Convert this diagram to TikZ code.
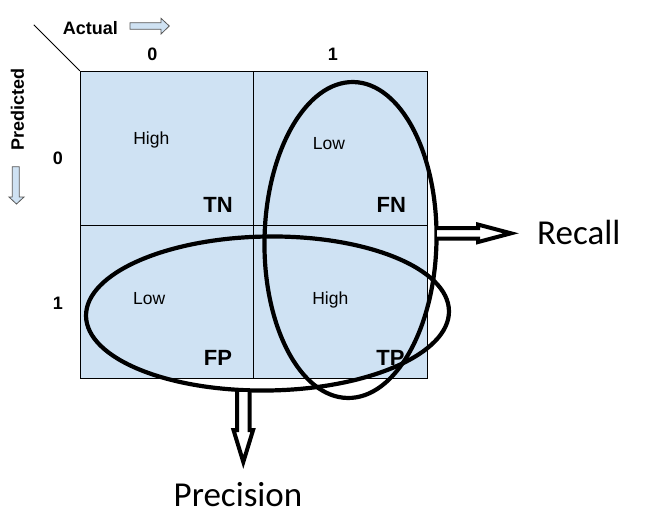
\documentclass[tikz,border=0pt]{standalone}
\usepackage{fontspec}
\setmainfont{Liberation Sans}
\newfontfamily\calibri{Carlito}
\usetikzlibrary{positioning, shapes.geometric}
\definecolor{cellblue}{HTML}{CFE2F3}
\definecolor{arrowgray}{HTML}{595959}

\begin{document}
\begin{tikzpicture}[x=1pt,y=-1pt,on grid,node distance=153.8pt and 173.5pt,
    cell/.style={draw, fill=cellblue, line width=1pt, minimum width=173.5pt, minimum height=153.8pt, inner sep=0pt},
    axis/.style={font=\bfseries\fontsize{18}{20}\selectfont, inner sep=0pt},
    rate/.style={font=\fontsize{17.5}{20}\selectfont, inner sep=0pt, anchor=base},
    kind/.style={font=\bfseries\fontsize{22}{24}\selectfont, inner sep=0pt, anchor=base},
    metric/.style={font=\calibri\fontsize{35}{38}\selectfont, inner sep=0pt},
    ring/.style={draw, ellipse, line width=4.2pt, inner sep=0pt},
    flowarrow/.style={draw=arrowgray, fill=cellblue, line width=0.8pt},
    hollow/.style={draw, fill=white, line width=4pt}]
  \useasboundingbox (0,0) rectangle (648,520);

  % confusion matrix
  \node[cell] (tn) at (167,148.2) {};
  \node[cell] (fn) [right=of tn] {};
  \node[cell] (fp) [below=of tn] {};
  \node[cell] (tp) [right=of fp] {};
  \draw[line width=0.9pt] (tn.north west) -- ++(-46,-46);

  % axes
  \node[axis, anchor=base] (actual) at (90.5,34) {Actual};
  \draw[flowarrow] (130,22.7) -- (161,22.7) -- (161,18.3) -- (169.3,26) -- (161,34) -- (161,29.3) -- (130,29.3) -- cycle;
  \node[axis, rotate=90] (predicted) at (17.5,109.4) {Predicted};
  \draw[flowarrow] (12.3,166.7) -- (12.3,197) -- (9,197) -- (16.5,204) -- (24,197) -- (19.3,197) -- (19.3,166.7) -- cycle;
  \node[axis, anchor=base] (act0) at (152.5,60.7) {0};
  \node[axis, anchor=base] (act1) at (333,60.7) {1};
  \node[axis, anchor=base] (pred0) at (58,164.3) {0};
  \node[axis, anchor=base] (pred1) at (58,309.5) {1};

  % cell texts
  \node[rate] (tnrate) at (151.3,144) {High};
  \node[kind] (tnname) at (218,212.7) {TN};
  \node[rate] (fnrate) at (329,149) {Low};
  \node[kind] (fnname) at (391.3,212.7) {FN};
  \node[rate] (fprate) at (149.3,304.5) {Low};
  \node[kind] (fpname) at (218,365.7) {FP};
  \node[rate] (tprate) at (330.3,304.5) {High};
  \node[kind] (tpname) at (390.5,365.7) {TP};

  % rings
  \node[ring, minimum width=172pt, minimum height=316pt, rotate=-1.1] (recallring) at (350.5,240) {};
  \node[ring, minimum width=363pt, minimum height=154pt, rotate=0.8] (precring) at (267.5,313.5) {};

  % metrics
  \coordinate (recalltail) at (437,233.3);
  \draw[hollow] (recalltail) ++(0,-5.25) -- ++(41,0) -- ++(0,-3.5) -- ++(33,8.75) -- ++(-33,8.75) -- ++(0,-3.5) -- ++(-41,0);
  \node[metric, anchor=base west] (recall) at (537,244.3) {Recall};
  \coordinate (prectail) at (243.3,392);
  \draw[hollow] (prectail) ++(-6.3,0) -- ++(0,38) -- ++(-3.5,0) -- ++(9.8,32) -- ++(9.8,-32) -- ++(-3.5,0) -- ++(0,-38);
  \node[metric, anchor=base] (precision) at (238,506.7) {Precision};
\end{tikzpicture}
\end{document}
